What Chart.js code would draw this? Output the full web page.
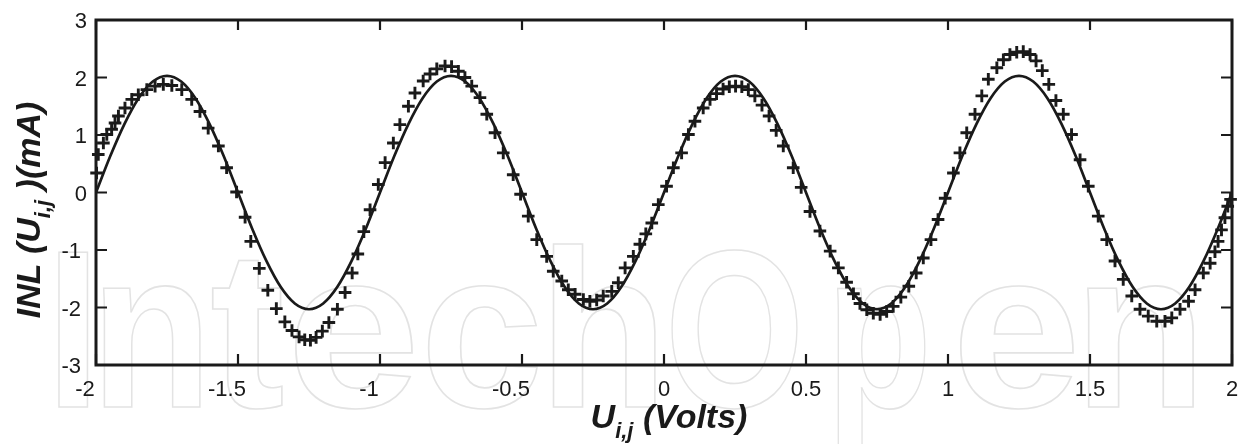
<!DOCTYPE html>
<html>
<head>
<meta charset="utf-8">
<script src="https://cdn.jsdelivr.net/npm/chart.js@4.4.1/dist/chart.umd.min.js"></script>
<style>
  html, body { margin: 0; padding: 0; background: #fff; }
  #wrap { width: 1244px; height: 444px; }
</style>
</head>
<body>
<div id="wrap"><canvas id="inl" width="1244" height="444"></canvas></div>
<script>
// axis ticks
const xTicks = [-2, -1.5, -1, -0.5, 0, 0.5, 1, 1.5, 2];
const xTickLabels = ['-2', '-1.5', '-1', '-0.5', '0', '0.5', '1', '1.5', '2'];
const yTicks = [-3, -2, -1, 0, 1, 2, 3];
const yTickLabels = ['-3', '-2', '-1', '0', '1', '2', '3'];

// model curve, one sample every 0.05 V
const fitU = [
  -2, -1.95, -1.9, -1.85, -1.8, -1.75, -1.7, -1.65, -1.6, -1.55,
  -1.5, -1.45, -1.4, -1.35, -1.3, -1.25, -1.2, -1.15, -1.1, -1.05,
  -1, -0.95, -0.9, -0.85, -0.8, -0.75, -0.7, -0.65, -0.6, -0.55,
  -0.5, -0.45, -0.4, -0.35, -0.3, -0.25, -0.2, -0.15, -0.1, -0.05,
  0, 0.05, 0.1, 0.15, 0.2, 0.25, 0.3, 0.35, 0.4, 0.45,
  0.5, 0.55, 0.6, 0.65, 0.7, 0.75, 0.8, 0.85, 0.9, 0.95,
  1, 1.05, 1.1, 1.15, 1.2, 1.25, 1.3, 1.35, 1.4, 1.45,
  1.5, 1.55, 1.6, 1.65, 1.7, 1.75, 1.8, 1.85, 1.9, 1.95,
  2
];
const fitINL = [
  0, 0.63, 1.19, 1.64, 1.93, 2.03, 1.93, 1.64, 1.19, 0.63,
  0, -0.63, -1.19, -1.64, -1.93, -2.03, -1.93, -1.64, -1.19, -0.63,
  0, 0.63, 1.19, 1.64, 1.93, 2.03, 1.93, 1.64, 1.19, 0.63,
  0, -0.63, -1.19, -1.64, -1.93, -2.03, -1.93, -1.64, -1.19, -0.63,
  0, 0.63, 1.19, 1.64, 1.93, 2.03, 1.93, 1.64, 1.19, 0.63,
  0, -0.63, -1.19, -1.64, -1.93, -2.03, -1.93, -1.64, -1.19, -0.63,
  0, 0.63, 1.19, 1.64, 1.93, 2.03, 1.93, 1.64, 1.19, 0.63,
  0, -0.63, -1.19, -1.64, -1.93, -2.03, -1.93, -1.64, -1.19, -0.63,
  0
];

// measured INL points
const measU = [
  -1.998, -1.992, -1.974, -1.962, -1.945, -1.933, -1.921, -1.898, -1.874, -1.851,
  -1.821, -1.792, -1.763, -1.733, -1.698, -1.663, -1.634, -1.605, -1.569, -1.540, -1.505,
  -1.475, -1.455, -1.425, -1.395, -1.365, -1.335, -1.310, -1.285, -1.265, -1.245,
  -1.225, -1.203, -1.180, -1.150, -1.123, -1.098, -1.078, -1.057, -1.035, -1.006,
  -0.982, -0.953, -0.930, -0.900, -0.877, -0.848, -0.824, -0.800, -0.771, -0.748,
  -0.724, -0.701, -0.677, -0.648, -0.624, -0.595, -0.566, -0.531, -0.505,
  -0.478, -0.448, -0.413, -0.390, -0.360, -0.337, -0.313, -0.284, -0.261, -0.237,
  -0.214, -0.184, -0.161, -0.137, -0.108, -0.085, -0.064, -0.043, -0.020, 0.009,
  0.033, 0.062, 0.086, 0.109, 0.138, 0.162, 0.185, 0.208, 0.230, 0.252,
  0.274, 0.297, 0.320, 0.345, 0.370, 0.395, 0.420, 0.455, 0.483,
  0.514, 0.549, 0.585, 0.614, 0.643, 0.667, 0.690, 0.714, 0.737, 0.761,
  0.784, 0.807, 0.834, 0.862, 0.888, 0.913, 0.940, 0.965, 0.990,
  1.019, 1.042, 1.066, 1.095, 1.119, 1.142, 1.172, 1.195, 1.218, 1.242,
  1.265, 1.289, 1.310, 1.332, 1.355, 1.380, 1.406, 1.435, 1.465, 1.494,
  1.529, 1.559, 1.588, 1.617, 1.647, 1.676, 1.705, 1.735, 1.764, 1.788,
  1.817, 1.847, 1.870, 1.899, 1.923, 1.940, 1.951, 1.963, 1.975, 1.985, 1.995
];
const measINL = [
  0.34, 0.66, 0.86, 1.01, 1.10, 1.21, 1.33, 1.47, 1.62, 1.70,
  1.79, 1.85, 1.88, 1.86, 1.79, 1.62, 1.41, 1.12, 0.81, 0.43, 0.01,
  -0.43, -0.85, -1.32, -1.70, -2.02, -2.25, -2.40, -2.51, -2.56, -2.57,
  -2.52, -2.41, -2.26, -2.03, -1.74, -1.40, -1.07, -0.68, -0.30, 0.14,
  0.52, 0.86, 1.18, 1.50, 1.73, 1.94, 2.06, 2.15, 2.20, 2.19,
  2.11, 2.00, 1.85, 1.65, 1.36, 1.04, 0.69, 0.31, -0.03,
  -0.41, -0.82, -1.11, -1.37, -1.54, -1.69, -1.77, -1.86, -1.89, -1.87,
  -1.80, -1.72, -1.57, -1.31, -1.11, -0.90, -0.72, -0.53, -0.21, 0.11,
  0.43, 0.69, 1.01, 1.24, 1.47, 1.62, 1.72, 1.80, 1.84, 1.85,
  1.84, 1.79, 1.68, 1.52, 1.33, 1.08, 0.81, 0.43, 0.09,
  -0.33, -0.67, -1.02, -1.31, -1.56, -1.76, -1.93, -2.04, -2.10, -2.12,
  -2.07, -1.98, -1.82, -1.63, -1.40, -1.14, -0.82, -0.47, -0.10,
  0.34, 0.69, 1.04, 1.36, 1.68, 1.97, 2.17, 2.31, 2.40, 2.44,
  2.45, 2.40, 2.29, 2.12, 1.88, 1.60, 1.36, 1.01, 0.57, 0.11,
  -0.41, -0.82, -1.19, -1.51, -1.80, -2.03, -2.15, -2.24, -2.24, -2.18,
  -2.03, -1.89, -1.69, -1.40, -1.23, -1.03, -0.85, -0.65, -0.44, -0.24, -0.12
];

const INK = '#1a1a1a';
const FONT = '"Liberation Sans", Arial, sans-serif';

// draws "main" + subscript + "rest" centred on x=0, on the current baseline
function drawSubText(ctx, main, sub, rest, size, subSize, subDrop) {
  const big = 'italic bold ' + size + 'px ' + FONT;
  const small = 'italic bold ' + subSize + 'px ' + FONT;
  ctx.font = big;
  const w1 = ctx.measureText(main).width;
  const w3 = ctx.measureText(rest).width;
  ctx.font = small;
  const w2 = ctx.measureText(sub).width;
  let x = -(w1 + w2 + w3) / 2;
  ctx.font = big;
  ctx.fillText(main, x, 0);
  x += w1;
  ctx.font = small;
  ctx.fillText(sub, x, subDrop);
  x += w2;
  ctx.font = big;
  ctx.fillText(rest, x, 0);
}

// outlined publisher mark: glyph and its left/right ink edge in px
const markGlyphs = [
  ['I', 58, 88], ['n', 103, 200], ['t', 212, 282], ['e', 295, 412],
  ['c', 428, 538], ['h', 553, 655], ['O', 672, 797], ['p', 837, 925],
  ['e', 960, 1073], ['n', 1087, 1193]
];

const frame = {
  id: 'frame',
  beforeDraw(chart) {
    const ctx = chart.ctx;
    ctx.save();
    ctx.fillStyle = '#fff';
    ctx.fillRect(0, 0, chart.width, chart.height);
    ctx.font = 'bold 224px ' + FONT;
    ctx.strokeStyle = '#e3e3e3';
    ctx.lineWidth = 1.6;
    markGlyphs.forEach(([ch, l, r]) => {
      const m = ctx.measureText(ch);
      const inkW = m.actualBoundingBoxRight + m.actualBoundingBoxLeft;
      ctx.save();
      ctx.translate(l, 407);
      ctx.scale((r - l) / inkW, 1);
      ctx.strokeText(ch, m.actualBoundingBoxLeft, 0);
      ctx.restore();
    });
    ctx.restore();
  },
  afterDraw(chart) {
    const ctx = chart.ctx;
    const a = chart.chartArea;
    const sx = chart.scales.x;
    const sy = chart.scales.y;
    ctx.save();
    ctx.strokeStyle = INK;
    // tick marks, pointing inward on all four sides
    ctx.lineWidth = 2.2;
    ctx.beginPath();
    xTicks.forEach(v => {
      const px = sx.getPixelForValue(v);
      ctx.moveTo(px, a.bottom); ctx.lineTo(px, a.bottom - 11);
      ctx.moveTo(px, a.top); ctx.lineTo(px, a.top + 10);
    });
    yTicks.forEach(v => {
      const py = sy.getPixelForValue(v);
      ctx.moveTo(a.left, py); ctx.lineTo(a.left + 11, py);
      ctx.moveTo(a.right, py); ctx.lineTo(a.right - 11, py);
    });
    ctx.stroke();
    // box
    ctx.lineWidth = 3;
    ctx.strokeRect(a.left, a.top, a.right - a.left, a.bottom - a.top);

    // tick labels
    ctx.fillStyle = INK;
    ctx.font = '22px ' + FONT;
    ctx.textAlign = 'center';
    ctx.textBaseline = 'middle';
    xTicks.forEach((v, i) => {
      const px = sx.getPixelForValue(v) - (v < 0 ? 11 : 0);
      ctx.fillText(xTickLabels[i], px, a.bottom + 25);
    });
    ctx.textAlign = 'right';
    yTicks.forEach((v, i) => {
      const py = sy.getPixelForValue(v) + 2;
      ctx.fillText(yTickLabels[i], a.left - 9 - (v < 0 ? 6 : 0), py);
    });

    // axis titles
    ctx.textAlign = 'left';
    ctx.textBaseline = 'alphabetic';
    ctx.save();
    ctx.translate(669, 428);
    drawSubText(ctx, 'U', 'i,j', ' (Volts)', 34, 22, 10);
    ctx.restore();
    ctx.save();
    ctx.translate(40, 210);
    ctx.rotate(-Math.PI / 2);
    drawSubText(ctx, 'INL (U', 'i,j', ' )(mA)', 34, 22, 10);
    ctx.restore();
    ctx.restore();
  }
};

const ctx = document.getElementById('inl').getContext('2d');

new Chart(ctx, {
  type: 'scatter',
  data: {
    datasets: [
      {
        type: 'line',
        data: fitU.map((u, i) => ({ x: u, y: fitINL[i] })),
        borderColor: INK,
        borderWidth: 2.7,
        pointRadius: 0,
        fill: false,
        cubicInterpolationMode: 'monotone'
      },
      {
        data: measU.map((u, i) => ({ x: u, y: measINL[i] })),
        pointStyle: 'cross',
        pointRadius: 6.3,
        borderColor: INK,
        borderWidth: 2.9,
        showLine: false,
        clip: 8
      }
    ]
  },
  options: {
    responsive: false,
    animation: false,
    devicePixelRatio: 1,
    layout: { padding: { top: 20, right: 12, left: 0, bottom: 0 } },
    plugins: {
      legend: { display: false },
      tooltip: { enabled: false }
    },
    scales: {
      x: {
        type: 'linear', min: -2, max: 2,
        grid: { display: false }, border: { display: false },
        ticks: { display: false },
        afterFit(scale) { scale.height = 79; }
      },
      y: {
        type: 'linear', min: -3, max: 3,
        grid: { display: false }, border: { display: false },
        ticks: { display: false },
        afterFit(scale) { scale.width = 96; }
      }
    }
  },
  plugins: [frame]
});
</script>
</body>
</html>
